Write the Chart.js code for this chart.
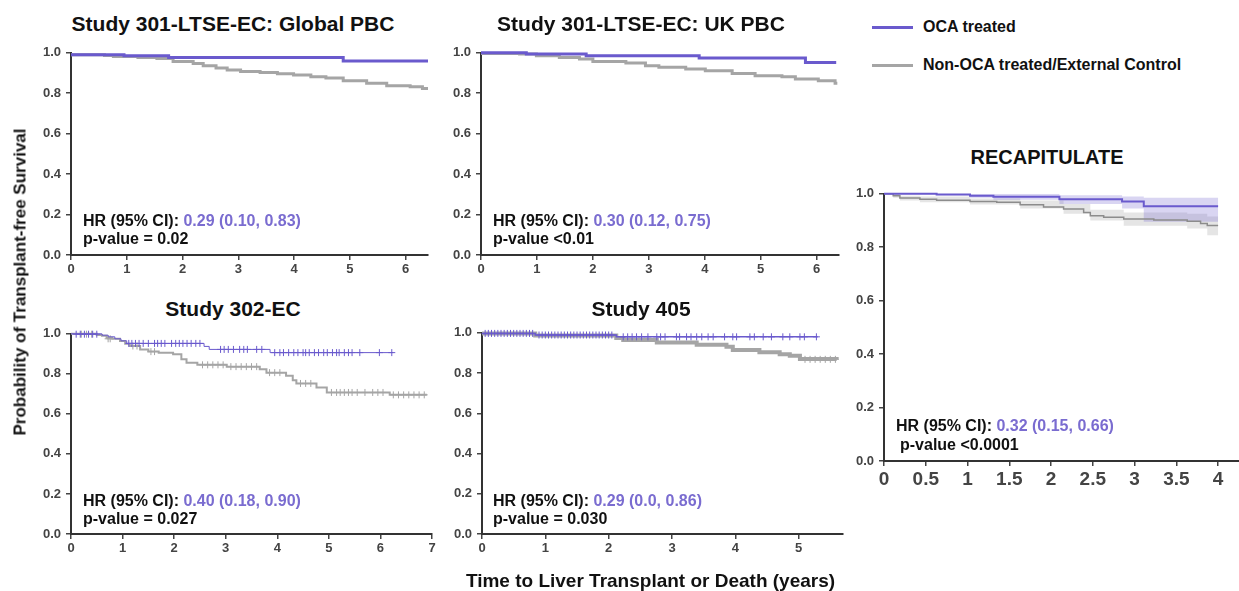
<!DOCTYPE html>
<html>
<head>
<meta charset="utf-8">
<script src="https://cdn.jsdelivr.net/npm/chart.js@4.4.1/dist/chart.umd.min.js"></script>
<style>
  body { margin: 0; background: #fff; width: 1239px; height: 591px; position: relative; overflow: hidden; }
  .t { position: absolute; white-space: nowrap; font-family: "Liberation Sans", Arial, sans-serif; font-weight: bold; color: #111; line-height: 1; }
  .hl { color: #7A6CD0; }
  .key { position: absolute; height: 3px; }
</style>
</head>
<body>
<script>
const PURPLE = '#6A5ACD'
const GRAY = '#A5A5A5'
const FONT = '"Liberation Sans", Arial, sans-serif'

// Study 301-LTSE-EC: Global PBC
const globalOcaT = [0, 0.95, 1.75, 4.88, 6.4]
const globalOcaS = [0.99, 0.985, 0.977, 0.96, 0.96]
const globalCtrlT = [0, 0.6, 0.76, 1.2, 1.54, 1.83, 2.19, 2.37, 2.6, 2.8, 3.04, 3.39, 3.7, 3.99, 4.3, 4.57, 4.88, 5.3, 5.66, 6.08, 6.3, 6.4]
const globalCtrlS = [0.99, 0.987, 0.982, 0.977, 0.972, 0.957, 0.947, 0.936, 0.925, 0.915, 0.908, 0.903, 0.897, 0.89, 0.882, 0.875, 0.862, 0.849, 0.837, 0.832, 0.824, 0.824]

// Study 301-LTSE-EC: UK PBC
const ukOcaT = [0, 0.81, 1.88, 3.9, 5.8, 6.35]
const ukOcaS = [1.0, 0.994, 0.985, 0.974, 0.952, 0.952]
const ukCtrlT = [0, 0.69, 0.99, 1.4, 1.76, 2.0, 2.59, 2.94, 3.18, 3.66, 4.01, 4.49, 4.9, 5.38, 5.62, 6.03, 6.33, 6.37]
const ukCtrlS = [0.997, 0.994, 0.985, 0.977, 0.969, 0.957, 0.949, 0.936, 0.928, 0.92, 0.911, 0.898, 0.887, 0.882, 0.87, 0.862, 0.849, 0.849]

// Study 302-EC
const ec302OcaT = [0, 0.6, 0.72, 0.85, 0.97, 1.08, 2.58, 2.68, 3.86, 6.25]
const ec302OcaS = [1.0, 0.993, 0.985, 0.975, 0.965, 0.952, 0.937, 0.922, 0.906, 0.906]
const ec302CtrlT = [0, 0.5, 0.6, 0.69, 0.8, 0.95, 1.05, 1.14, 1.34, 1.5, 1.7, 1.98, 2.14, 2.24, 2.45, 3.02, 3.66, 3.79, 4.17, 4.3, 4.37, 4.76, 4.96, 6.18, 6.9]
const ec302CtrlS = [1.0, 0.994, 0.99, 0.98, 0.975, 0.964, 0.95, 0.939, 0.922, 0.911, 0.905, 0.898, 0.873, 0.856, 0.845, 0.836, 0.823, 0.806, 0.79, 0.768, 0.752, 0.732, 0.707, 0.695, 0.695]
const ec302OcaMarks = [
  [0.998, [0.1, 0.18, 0.26, 0.34, 0.42, 0.5]],
  [0.952, [1.12, 1.18, 1.25, 1.32, 1.4, 1.5, 1.62, 1.68, 1.75, 1.82, 1.95, 2.03, 2.1, 2.17, 2.25, 2.33, 2.42, 2.5]],
  [0.922, [2.9, 2.97, 3.05, 3.15, 3.27, 3.35, 3.42, 3.6, 3.7]],
  [0.906, [3.95, 4.05, 4.12, 4.22, 4.32, 4.4, 4.5, 4.55, 4.62, 4.72, 4.8, 4.9, 4.97, 5.07, 5.15, 5.2, 5.3, 5.38, 5.45, 5.6, 5.98, 6.22]]
]
const ec302CtrlMarks = [
  [0.998, [0.2, 0.3, 0.4]],
  [0.975, [0.72, 0.76]],
  [0.939, [1.2, 1.28]],
  [0.911, [1.55, 1.62]],
  [0.845, [2.55, 2.65, 2.75, 2.85, 2.95]],
  [0.836, [3.1, 3.2, 3.3, 3.4, 3.5, 3.6]],
  [0.806, [3.85, 3.95, 4.05]],
  [0.752, [4.45, 4.55, 4.65]],
  [0.707, [5.05, 5.15, 5.22, 5.3, 5.38, 5.45, 5.55, 5.7, 5.85, 5.95, 6.05]],
  [0.695, [6.25, 6.35, 6.45, 6.55, 6.65, 6.75, 6.85]]
]

// Study 405
const s405OcaT = [0, 0.84, 2.12, 5.3]
const s405OcaS = [0.997, 0.989, 0.98, 0.98]
const s405CtrlT = [0, 0.84, 2.12, 2.23, 2.76, 3.39, 3.86, 3.96, 4.38, 4.7, 4.86, 5.02, 5.6]
const s405CtrlS = [0.997, 0.986, 0.974, 0.964, 0.952, 0.941, 0.931, 0.914, 0.903, 0.894, 0.886, 0.87, 0.868]
const s405OcaMarks = [
  [0.997, [0.05, 0.1, 0.15, 0.2, 0.25, 0.3, 0.35, 0.4, 0.45, 0.5, 0.55, 0.6, 0.65, 0.7, 0.75, 0.8]],
  [0.989, [0.9, 0.95, 1.0, 1.05, 1.1, 1.15, 1.2, 1.25, 1.3, 1.35, 1.4, 1.45, 1.5, 1.55, 1.6, 1.65, 1.7, 1.75, 1.8, 1.85, 1.9, 1.95, 2.0, 2.05]],
  [0.98, [2.23, 2.3, 2.37, 2.44, 2.52, 2.62, 2.76, 2.82, 2.89, 3.07, 3.12, 3.23, 3.3, 3.39, 3.47, 3.57, 3.65, 3.83, 3.96, 4.02, 4.23, 4.3, 4.44, 4.57, 4.75, 4.86, 5.02, 5.09, 5.28]]
]
const s405CtrlMarks = [
  [0.868, [5.1, 5.18, 5.26, 5.34, 5.42, 5.5, 5.58]]
]

// RECAPITULATE
const recapOcaT = [0, 0.63, 1.03, 1.31, 2.1, 2.85, 3.11, 4.0]
const recapOcaS = [1.0, 0.997, 0.993, 0.989, 0.98, 0.971, 0.953, 0.953]
const recapOcaLo = [1.0, 0.995, 0.985, 0.978, 0.962, 0.945, 0.895, 0.89]
const recapOcaHi = [1.0, 1.0, 1.0, 1.0, 0.995, 0.99, 0.985, 0.985]
const recapCtrlT = [0, 0.11, 0.19, 0.43, 0.63, 1.03, 1.35, 1.63, 1.91, 2.15, 2.39, 2.47, 2.63, 2.87, 3.23, 3.63, 3.79, 3.87, 4.0]
const recapCtrlS = [1.0, 0.993, 0.984, 0.98, 0.976, 0.971, 0.968, 0.959, 0.951, 0.943, 0.93, 0.918, 0.912, 0.906, 0.902, 0.897, 0.889, 0.881, 0.881]
const recapBandT = [0, 0.11, 0.19, 0.43, 1.03, 1.63, 2.15, 2.47, 2.87, 3.63, 3.87, 4.0]
const recapCtrlLo = [1.0, 0.985, 0.975, 0.968, 0.96, 0.945, 0.925, 0.9, 0.88, 0.87, 0.845, 0.84]
const recapCtrlHi = [1.0, 1.0, 0.993, 0.99, 0.982, 0.975, 0.962, 0.94, 0.93, 0.925, 0.915, 0.915]

const km = (ts, ss) => ts.map((t, i) => ({ x: t, y: ss[i] }))
const marks = groups => groups.flatMap(([s, ts]) => ts.map(t => ({ x: t, y: s })))

const curve = (ts, ss, color, width) => ({
  data: km(ts, ss), stepped: true, borderColor: color, borderWidth: width,
  pointRadius: 0, fill: false, clip: 8
})
const censor = (groups, color) => ({
  data: marks(groups), showLine: false, pointStyle: 'cross', pointRadius: 3.5,
  borderColor: color, borderWidth: 1, clip: 8
})
const band = (ts, ss, fill, bg) => ({
  data: km(ts, ss), stepped: true, borderWidth: 0, pointRadius: 0,
  fill: fill, backgroundColor: bg
})

function panel (box, xMax, xStep, xSize, datasets) {
  const yw = 50, xh = 26, padT = 12, padR = 8
  const cv = document.createElement('canvas')
  const left = box.l - yw, top = box.t - padT
  const w = box.r + padR - left, h = box.b + xh - top
  cv.width = w
  cv.height = h
  cv.style.cssText = `position:absolute;left:${left}px;top:${top}px;width:${w}px;height:${h}px`
  document.body.appendChild(cv)
  const grid = { display: true, drawOnChartArea: false, drawTicks: true, tickLength: 5, color: '#444', lineWidth: 1.5 }
  const border = { display: true, color: '#333', width: 2 }
  new Chart(cv, {
    type: 'line',
    data: { datasets },
    options: {
      responsive: false,
      animation: false,
      devicePixelRatio: 1,
      layout: { padding: { top: padT, right: padR, left: 0, bottom: 0 } },
      plugins: { legend: { display: false }, tooltip: { enabled: false } },
      scales: {
        x: {
          type: 'linear', min: 0, max: xMax,
          afterFit: s => { s.height = xh },
          grid, border,
          ticks: {
            stepSize: xStep, includeBounds: false, padding: 2, maxRotation: 0, color: '#444',
            font: { family: FONT, size: xSize, weight: 'bold' },
            callback: v => String(Math.round(v * 10) / 10)
          }
        },
        y: {
          type: 'linear', min: 0, max: 1,
          afterFit: s => { s.width = yw },
          grid, border,
          ticks: { stepSize: 0.2, padding: 5, color: '#444', font: { family: FONT, size: 13, weight: 'bold' }, callback: v => v.toFixed(1) }
        }
      }
    }
  })
}

panel({ l: 71, r: 428, t: 52, b: 255 }, 6.4, 1, 13, [
  curve(globalOcaT, globalOcaS, PURPLE, 3),
  curve(globalCtrlT, globalCtrlS, GRAY, 3)
])
panel({ l: 481, r: 839, t: 52, b: 255 }, 6.4, 1, 13, [
  curve(ukOcaT, ukOcaS, PURPLE, 3),
  curve(ukCtrlT, ukCtrlS, GRAY, 3)
])
panel({ l: 71, r: 432, t: 333, b: 534 }, 7, 1, 13, [
  curve(ec302OcaT, ec302OcaS, PURPLE, 1),
  censor(ec302OcaMarks, PURPLE),
  curve(ec302CtrlT, ec302CtrlS, GRAY, 2),
  censor(ec302CtrlMarks, GRAY)
])
panel({ l: 482, r: 843, t: 332, b: 534 }, 5.7, 1, 13, [
  curve(s405OcaT, s405OcaS, PURPLE, 1.5),
  censor(s405OcaMarks, PURPLE),
  curve(s405CtrlT, s405CtrlS, GRAY, 4),
  censor(s405CtrlMarks, GRAY)
])
panel({ l: 884, r: 1239, t: 193, b: 461 }, 4.25, 0.5, 19, [
  curve(recapOcaT, recapOcaS, PURPLE, 2),
  curve(recapCtrlT, recapCtrlS, '#8C8C8C', 1.5),
  band(recapOcaT, recapOcaHi, false, 'rgba(0,0,0,0)'),
  band(recapOcaT, recapOcaLo, '-1', 'rgba(120,105,210,0.28)'),
  band(recapBandT, recapCtrlHi, false, 'rgba(0,0,0,0)'),
  band(recapBandT, recapCtrlLo, '-1', 'rgba(150,150,150,0.25)')
])

// text
function txt (html, x, base, size, center) {
  const d = document.createElement('div')
  d.className = 't'
  d.innerHTML = html
  d.style.fontSize = size + 'px'
  d.style.top = (base - 0.8465 * size) + 'px'
  d.style.left = x + 'px'
  if (center) d.style.transform = 'translateX(-50%)'
  document.body.appendChild(d)
}

txt('Study 301-LTSE-EC: Global PBC', 233, 30.7, 21, true)
txt('Study 301-LTSE-EC: UK PBC', 641, 30.7, 21, true)
txt('Study 302-EC', 233, 315.7, 21, true)
txt('Study 405', 641, 315.7, 21, true)
txt('RECAPITULATE', 1047, 164.3, 20, true)

txt('HR (95% CI): <span class="hl">0.29 (0.10, 0.83)</span>', 83, 226.7, 16)
txt('p-value = 0.02', 83, 245, 16)
txt('HR (95% CI): <span class="hl">0.30 (0.12, 0.75)</span>', 493, 226.7, 16)
txt('p-value &lt;0.01', 493, 245, 16)
txt('HR (95% CI): <span class="hl">0.40 (0.18, 0.90)</span>', 83, 506.7, 16)
txt('p-value = 0.027', 83, 525, 16)
txt('HR (95% CI): <span class="hl">0.29 (0.0, 0.86)</span>', 493, 506.5, 16)
txt('p-value = 0.030', 493, 525, 16)
txt('HR (95% CI): <span class="hl">0.32 (0.15, 0.66)</span>', 896, 431.7, 16)
txt('p-value &lt;0.0001', 900, 450.7, 16)

txt('OCA treated', 923, 32.3, 16)
txt('Non-OCA treated/External Control', 923, 71, 16)
txt('Time to Liver Transplant or Death (years)', 650.5, 586.7, 19, true)

const yt = document.createElement('div')
yt.className = 't'
yt.textContent = 'Probability of Transplant-free Survival'
yt.style.cssText = 'font-size:17px;left:20px;top:282px;transform:translate(-50%,-50%) rotate(-90deg)'
document.body.appendChild(yt)

// legend keys
const keys = [[PURPLE, 26], [GRAY, 64]]
keys.forEach(([c, y]) => {
  const k = document.createElement('div')
  k.className = 'key'
  k.style.cssText = `left:872px;top:${y}px;width:41px;background:${c}`
  document.body.appendChild(k)
})
</script>
</body>
</html>
